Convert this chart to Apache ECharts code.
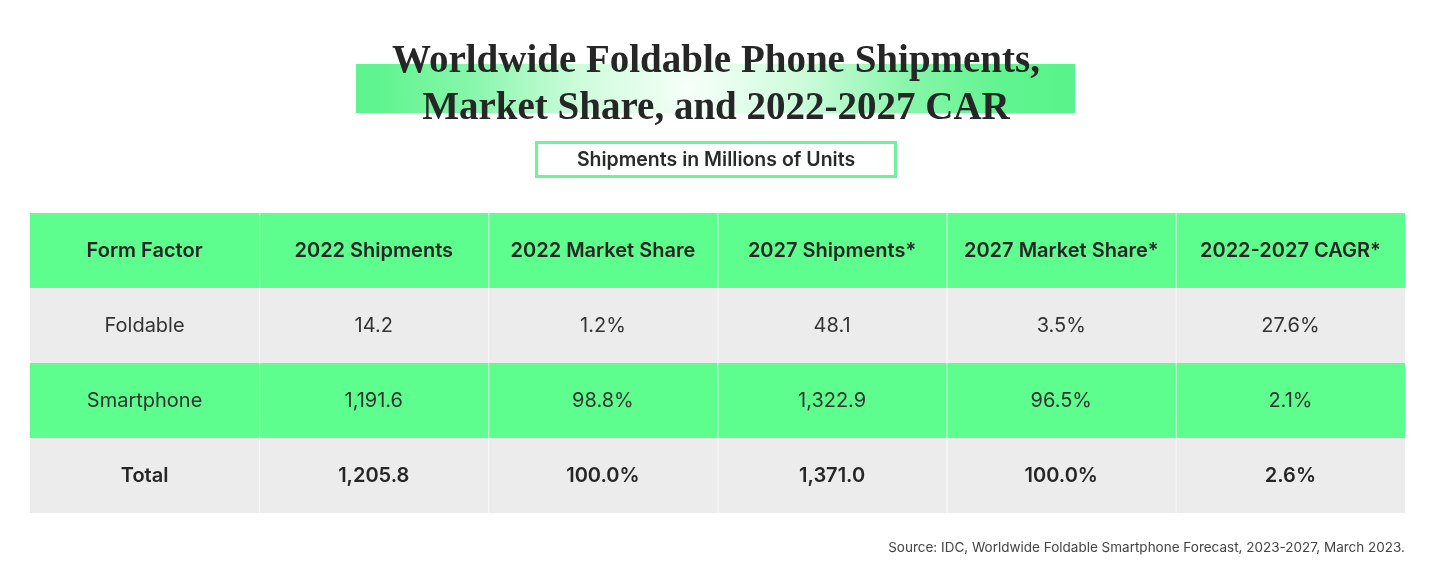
<!DOCTYPE html>
<html>
<head>
<meta charset="utf-8">
<script src="https://cdn.jsdelivr.net/npm/echarts@6/dist/echarts.min.js"></script>
<style>
html,body{margin:0;padding:0;background:#ffffff;}
#chart{width:1437px;height:574px;}
</style>
</head>
<body>
<div id="chart"></div>
<script>
// ---- data ----
const titleLines = ['Worldwide Foldable Phone Shipments,', 'Market Share, and 2022-2027 CAR'];
const subtitle = 'Shipments in Millions of Units';
const sourceNote = 'Source: IDC, Worldwide Foldable Smartphone Forecast, 2023-2027, March 2023.';
const columns = ['Form Factor', '2022 Shipments', '2022 Market Share', '2027 Shipments*', '2027 Market Share*', '2022-2027 CAGR*'];
const formFactors = ['Foldable', 'Smartphone', 'Total'];
const shipments2022 = [14.2, 1191.6, 1205.8];
const share2022 = [1.2, 98.8, 100.0];
const shipments2027 = [48.1, 1322.9, 1371.0];
const share2027 = [3.5, 96.5, 100.0];
const cagr = [27.6, 2.1, 2.6];

// ---- formatting ----
function fmtNum(v) {
  const parts = v.toFixed(1).split('.');
  parts[0] = parts[0].replace(/\B(?=(\d{3})+(?!\d))/g, ',');
  return parts.join('.');
}
function fmtPct(v) { return v.toFixed(1) + '%'; }

const rowKeys = ['header'].concat(formFactors);
const cells = [];
columns.forEach((c, ci) => cells.push({ value: [ci, 0], text: c, kind: 'header' }));
formFactors.forEach((f, ri) => {
  const kind = ri === formFactors.length - 1 ? 'total' : 'body';
  const vals = [f, fmtNum(shipments2022[ri]), fmtPct(share2022[ri]), fmtNum(shipments2027[ri]), fmtPct(share2027[ri]), fmtPct(cagr[ri])];
  vals.forEach((t, ci) => cells.push({ value: [ci, ri + 1], text: t, kind: kind }));
});

const GREEN = '#5dfd8e';
const GRAY = '#ececec';
const rowFill = [GREEN, GRAY, GREEN, GRAY];

const chart = echarts.init(document.getElementById('chart'), null, { renderer: 'canvas' });
chart.setOption({
  backgroundColor: '#ffffff',
  animation: false,
  grid: { left: 30, right: 32, top: 213, bottom: 61 },
  xAxis: { type: 'category', data: columns, show: false },
  yAxis: { type: 'category', data: rowKeys, inverse: true, show: false },
  graphic: [
    {
      type: 'rect', z: 0,
      shape: { x: 356, y: 64, width: 719, height: 49 },
      style: {
        fill: {
          type: 'radial', global: true, x: 690, y: 88, r: 370,
          colorStops: [
            { offset: 0, color: '#f7fff9' },
            { offset: 0.3, color: '#cdfcdb' },
            { offset: 0.6, color: '#86f6a9' },
            { offset: 0.85, color: '#5ff48f' },
            { offset: 1, color: '#5af38b' }
          ]
        }
      }
    },
    {
      type: 'text', z: 2, x: 716, y: 62,
      style: {
        text: titleLines[0], fill: '#262626',
        font: 'bold 39px "Liberation Serif", serif',
        align: 'center', verticalAlign: 'middle'
      }
    },
    {
      type: 'text', z: 2, x: 716, y: 109,
      style: {
        text: titleLines[1], fill: '#262626',
        font: 'bold 39px "Liberation Serif", serif',
        align: 'center', verticalAlign: 'middle'
      }
    },
    {
      type: 'rect', z: 1,
      shape: { x: 536.5, y: 142.5, width: 359, height: 34 },
      style: { fill: '#ffffff', stroke: '#6ef29a', lineWidth: 3 }
    },
    {
      type: 'text', z: 2, x: 716, y: 160,
      style: {
        text: subtitle, fill: '#2a2a2a',
        font: '600 19.5px Inter, sans-serif',
        align: 'center', verticalAlign: 'middle'
      }
    },
    {
      type: 'text', z: 2, x: 1405, y: 548,
      style: {
        text: sourceNote, fill: '#444444',
        font: '13.5px Inter, sans-serif',
        align: 'right', verticalAlign: 'middle'
      }
    }
  ],
  series: [{
    type: 'custom',
    coordinateSystem: 'cartesian2d',
    data: cells,
    renderItem: function (params, api) {
      const cell = cells[params.dataIndex];
      const p = api.coord([api.value(0), api.value(1)]);
      const s = api.size([1, 1]);
      const x0 = p[0] - s[0] / 2, y0 = p[1] - s[1] / 2;
      const ri = api.value(1);
      const bold = cell.kind !== 'body';
      const children = [
        { type: 'rect', shape: { x: x0, y: y0, width: s[0], height: s[1] }, style: { fill: rowFill[ri] } },
        {
          type: 'text',
          style: {
            x: p[0], y: p[1], text: cell.text,
            fill: bold ? '#262626' : '#333333',
            font: (bold ? '600 ' : '400 ') + '20px Inter, sans-serif',
            align: 'center', verticalAlign: 'middle'
          }
        }
      ];
      if (api.value(0) > 0) {
        children.push({ type: 'line', shape: { x1: x0 + 0.5, y1: y0, x2: x0 + 0.5, y2: y0 + s[1] }, style: { stroke: 'rgba(255,255,255,0.6)', lineWidth: 1 } });
      }
      return { type: 'group', children: children };
    }
  }]
});
</script>
</body>
</html>
